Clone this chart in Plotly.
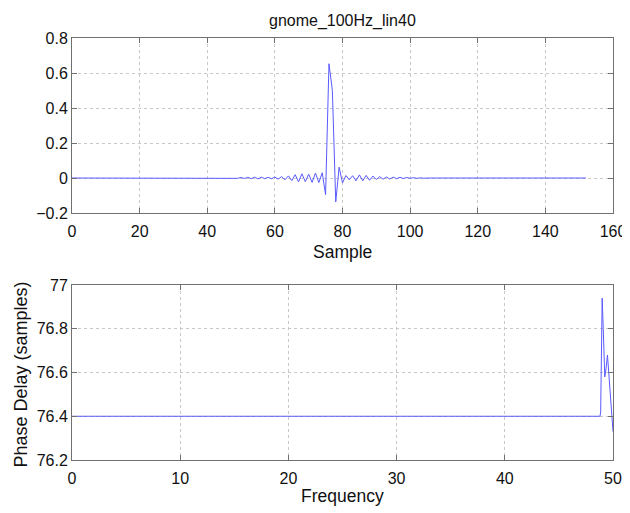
import plotly.graph_objects as go

# ---- data ----
sample = [0, 46, 47, 48, 49, 50, 51, 52, 53, 54, 55, 56, 57, 58, 59, 60, 61, 62, 63, 64,
          65, 66, 67, 68, 69, 70, 71, 72, 73, 74, 75, 76, 77, 78, 79, 80, 81, 82, 83, 84,
          85, 86, 87, 88, 89, 90, 91, 92, 93, 94, 95, 96, 97, 98, 99, 100, 101, 102, 103,
          104, 105, 106, 152]
impulse = [0.0, 0.0, -0.001, 0.002, -0.002, 0.003, -0.003, 0.004, -0.004, 0.005, -0.005,
           0.005, -0.004, 0.004, -0.004, 0.005, -0.006, 0.008, -0.010, 0.012, -0.015,
           0.019, -0.022, 0.024, -0.021, 0.022, -0.025, 0.028, -0.026, 0.030, -0.095,
           0.653, 0.500, -0.137, 0.062, -0.028, 0.014, -0.010, 0.013, -0.016, 0.018,
           -0.016, 0.015, -0.013, 0.011, -0.009, 0.008, -0.007, 0.006, -0.006, 0.005,
           -0.004, 0.004, -0.003, 0.003, -0.002, 0.002, -0.002, 0.001, -0.001, 0.001,
           0.0, 0.0]

freq = [0, 48.8, 48.86, 49.0, 49.1, 49.24, 49.36, 49.49, 50.0]
phase_delay = [76.40, 76.40, 76.42, 76.94, 76.80, 76.58, 76.62, 76.68, 76.33]

top_xticks = [0, 20, 40, 60, 80, 100, 120, 140, 160]
top_yticks = [-0.2, 0, 0.2, 0.4, 0.6, 0.8]
bot_xticks = [0, 10, 20, 30, 40, 50]
bot_yticks = [76.2, 76.4, 76.6, 76.8, 77]
bot_yticktext = ["76.2", "76.4", "76.6", "76.8", "77"]

title_text = "gnome_100Hz_lin40"
xlabel_top = "Sample"
xlabel_bot = "Frequency"
ylabel_bot = "Phase Delay (samples)"

LINE = "#5a5aff"
AX = "#707070"
GRID = "#c8c8c8"
FONT = "Liberation Sans"
TXT = "#111111"

fig = go.Figure()
fig.add_trace(go.Scatter(x=sample, y=impulse, mode="lines",
                         line=dict(color=LINE, width=1), xaxis="x", yaxis="y",
                         showlegend=False))
fig.add_trace(go.Scatter(x=freq, y=phase_delay, mode="lines",
                         line=dict(color=LINE, width=1), xaxis="x2", yaxis="y2",
                         showlegend=False))

axis_common = dict(showline=True, linecolor=AX, linewidth=1, mirror="ticks",
                   ticks="inside", ticklen=5, tickcolor=AX, automargin=False,
                   showgrid=True, gridcolor=GRID, griddash="dot", gridwidth=1,
                   zeroline=False, tickfont=dict(family=FONT, size=16, color=TXT))

# page has an 8px body margin; figure is 622x505 so the page is 630x513
W, H = 622, 505
ML, MR, MT, MB = 64, 17, 30, 53
H_AREA = H - MT - MB
top_bottom = (452 - 205) / H_AREA
bot_top = (452 - 277) / H_AREA

fig.update_layout(
    width=W, height=H,
    margin=dict(l=ML, r=MR, t=MT, b=MB, autoexpand=False),
    paper_bgcolor="white", plot_bgcolor="white",
    font=dict(family=FONT, color=TXT),
    xaxis=dict(domain=[0, 1], range=[0, 160], tickvals=top_xticks, anchor="y",
               ticklabelstandoff=4, **axis_common),
    yaxis=dict(domain=[top_bottom, 1], range=[-0.2, 0.8], tickvals=top_yticks, anchor="x",
               **axis_common),
    xaxis2=dict(domain=[0, 1], range=[0, 50], tickvals=bot_xticks, anchor="y2",
                ticklabelstandoff=4, **axis_common),
    yaxis2=dict(domain=[0, bot_top], range=[76.2, 77], tickvals=bot_yticks,
                ticktext=bot_yticktext, anchor="x2", **axis_common),
    annotations=[
        dict(text=title_text, x=0.5, y=1, xref="paper", yref="paper",
             xanchor="center", yanchor="bottom", yshift=6, showarrow=False,
             font=dict(family=FONT, size=16, color=TXT)),
        dict(text=xlabel_top, x=0.5, y=top_bottom, xref="paper", yref="paper",
             xanchor="center", yanchor="top", yshift=-27, showarrow=False,
             font=dict(family=FONT, size=17.5, color=TXT)),
        dict(text=xlabel_bot, x=0.5, y=0, xref="paper", yref="paper",
             xanchor="center", yanchor="top", yshift=-24, showarrow=False,
             font=dict(family=FONT, size=17.5, color=TXT)),
        dict(text=ylabel_bot, x=0, y=bot_top / 2, xref="paper", yref="paper",
             xanchor="center", yanchor="middle", xshift=-52, yshift=-2, textangle=-90,
             showarrow=False, font=dict(family=FONT, size=18, color=TXT)),
    ],
)

fig.write_html("out.html")
